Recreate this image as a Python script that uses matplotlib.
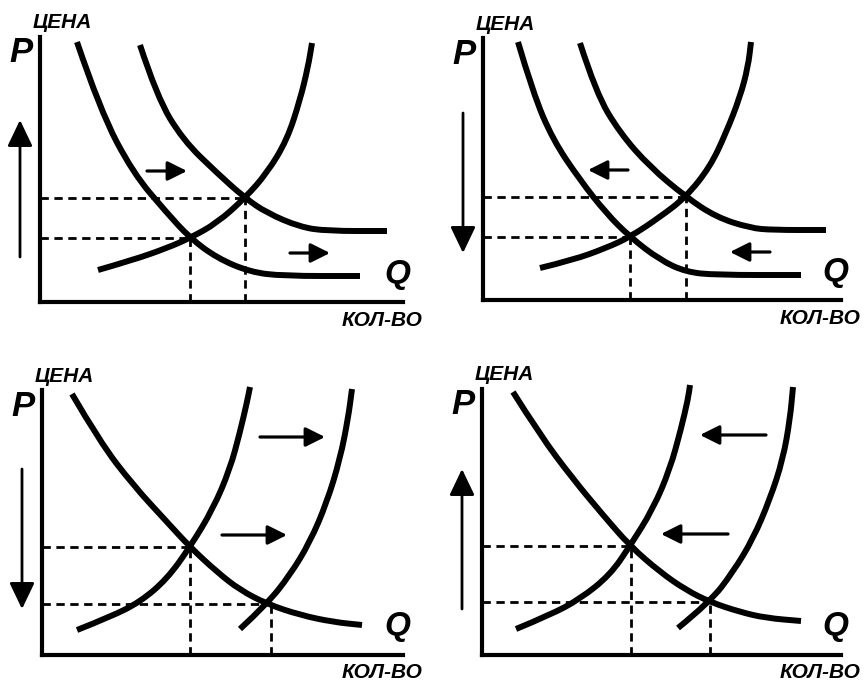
import numpy as np
import matplotlib
matplotlib.use("Agg")
import matplotlib.pyplot as plt
from matplotlib.path import Path
from matplotlib.patches import PathPatch

# Points. Q = quantity, P = price (pixel-ish units from the axis corner)
# panel 1: demand rises, price up
p1_d1 = [(37,260),(60,192),(93,129),(127,89),(150,64),(177,44),(210,30),(243,26),(320,26)]
p1_d2 = [(100,257),(117,205),(143,162),(177,129),(205,104),(227,89),(260,75),(287,71),(347,71)]
p1_s = [(58,32),(93,42),(127,54),(150,64),(177,79),(205,104),(227,129),(247,162),(260,202),(268,235),(272,259)]
p1_eq = [(150,64),(205,104)]
p1_arrows = [((107,131),(147,131)),((250,49),(290,49))]

# panel 2: demand falls, price down
p2_d1 = [(35,258),(50,207),(70,160),(97,120),(123,87),(147,63),(177,40),(203,28),(233,25),(318,25)]
p2_d2 = [(97,257),(113,207),(137,167),(167,133),(203,103),(233,83),(267,72),(290,70),(343,70)]
p2_s = [(57,32),(90,40),(123,52),(147,63),(177,83),(203,103),(227,133),(243,167),(257,203),(265,233),(268,258)]
p2_eq = [(147,63),(203,103)]
p2_arrows = [((145,130),(105,130)),((287,48),(247,48))]

# panel 3: supply rises, price down
p3_d = [(30,261),(58,213),(91,170),(125,133),(148,108),(175,83),(198,65),(225,51),(258,40),(291,33),(320,30)]
p3_s1 = [(35,25),(68,38),(98,53),(125,76),(148,108),(171,146),(188,186),(198,223),(205,253),(208,268)]
p3_s2 = [(198,26),(225,51),(248,80),(268,113),(285,153),(298,196),(306,236),(310,266)]
p3_eq = [(148,108),(229,51)]
p3_arrows = [((218,218),(283,218)),((180,120),(245,120))]

# panel 4: supply falls, price up
p4_d = [(31,263),(58,220),(91,176),(121,140),(148,109),(178,83),(204,65),(228,53),(258,43),(284,37),(319,34)]
p4_s1 = [(34,26),(68,40),(98,56),(128,80),(148,109),(171,146),(188,186),(199,226),(206,256),(208,270)]
p4_s2 = [(196,27),(228,53),(251,83),(271,116),(288,156),(301,196),(308,236),(311,268)]
p4_eq = [(149,109),(228,53)]
p4_arrows = [((284,220),(218,220)),((246,121),(179,121))]

# price arrow on the left: (start P, end P)
price_arrows = [(45,182),(187,47),(186,46),(46,186)]

# panel placement in image pixels: origin x, origin y, axis width, axis height
panels = [(40,302,363,265),(483,300,358,262),(42,655,361,265),(482,655,359,266)]
curves = [[p1_d1,p1_d2,p1_s],[p2_d1,p2_d2,p2_s],[p3_d,p3_s1,p3_s2],[p4_d,p4_s1,p4_s2]]
eqs = [p1_eq,p2_eq,p3_eq,p4_eq]
shifts = [p1_arrows,p2_arrows,p3_arrows,p4_arrows]

W, H = 866, 684
fig = plt.figure(figsize=(W/100, H/100), dpi=100)
font = 'Liberation Sans'


def smooth(ax, pts):
    pts = np.array(pts, dtype=float)
    verts = [pts[0]]
    codes = [Path.MOVETO]
    for i in range(1, len(pts)-1):
        mid = (pts[i] + pts[i+1]) / 2
        verts += [pts[i], mid]
        codes += [Path.CURVE3, Path.CURVE3]
    verts.append(pts[-1])
    codes.append(Path.LINETO)
    ax.add_patch(PathPatch(Path(verts, codes), fill=False, lw=4.3, ec='black',
                           capstyle='butt', clip_on=False, zorder=3))


for k, (x0, y0, w, h) in enumerate(panels):
    ax = fig.add_axes([x0/W, 1-y0/H, w/W, h/H])
    ax.set_xlim(0, w)
    ax.set_ylim(0, h)
    ax.set_facecolor('none')
    for s in ['top', 'right']:
        ax.spines[s].set_visible(False)
    for s in ['left', 'bottom']:
        ax.spines[s].set_linewidth(3)
        ax.spines[s].set_capstyle('projecting')
    ax.set_xticks([])
    ax.set_yticks([])

    for c in curves[k]:
        smooth(ax, c)

    for q, p in eqs[k]:
        ax.plot([0, q], [p, p], color='black', lw=2, dashes=(3, 2), zorder=2)
        ax.plot([q, q], [0, p], color='black', lw=2, dashes=(3, 2), zorder=2)

    for a, b in shifts[k]:
        ax.annotate('', xy=b, xytext=a, annotation_clip=False,
                    arrowprops=dict(arrowstyle='-|>,head_length=0.9,head_width=0.45',
                                    lw=2.3, color='black', shrinkA=0, shrinkB=0,
                                    mutation_scale=13))

    pa, pb = price_arrows[k]
    ax.annotate('', xy=(-20, pb), xytext=(-20, pa), annotation_clip=False,
                arrowprops=dict(arrowstyle='-|>,head_length=1.15,head_width=0.55',
                                lw=2, color='black', shrinkA=0, shrinkB=0,
                                mutation_scale=14))

    ax.text(-7, h+14, 'ЦЕНА', fontsize=15, fontweight='bold', style='italic',
            family=font, ha='left', va='center', clip_on=False)
    ax.text(-19, h-16, 'P', fontsize=25, fontweight='bold', style='italic',
            family=font, ha='center', va='center', clip_on=False)
    ax.text(w-6, 28, 'Q', fontsize=24, fontweight='bold', style='italic',
            family=font, ha='center', va='center', clip_on=False)
    ax.text(w+19, -18, 'КОЛ-ВО', fontsize=15, fontweight='bold', style='italic',
            family=font, ha='right', va='center', clip_on=False)

fig.savefig('out.png', dpi=100)
